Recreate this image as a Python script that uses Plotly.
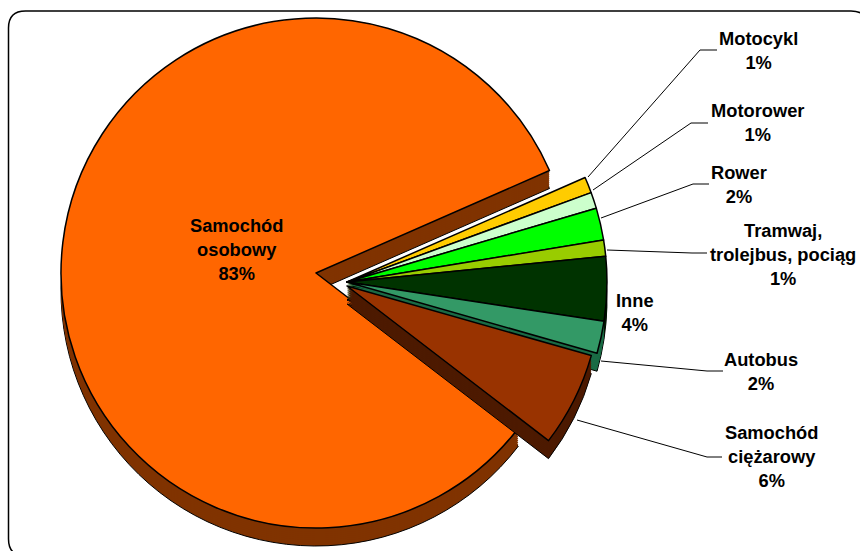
import plotly.graph_objects as go

# Visible window size, and a taller canvas so the lowest rim discs keep a valid domain
W, H = 860, 551
CANVAS_H = 640

# Share of road traffic by vehicle type (percent)
categories = ["Samochód osobowy", "Motocykl", "Motorower", "Rower",
              "Tramwaj, trolejbus, pociąg", "Inne", "Autobus", "Samochód ciężarowy"]
shares = [83, 1, 1, 2, 1, 4, 2, 6]
label_lines = ["Samochód<br>osobowy", "Motocykl", "Motorower", "Rower",
               "Tramwaj,<br>trolejbus, pociąg", "Inne", "Autobus", "Samochód<br>ciężarowy"]

face_colors = ["#FF6600", "#FFCC00", "#CCFFCC", "#00FF00", "#99CC00", "#003300", "#339966", "#993300"]
side_colors = ["#803300", "#806600", "#668066", "#008000", "#4D6600", "#001A00", "#1A6B45", "#4D1A00"]

HIDDEN = "rgba(0,0,0,0)"
DEPTH = 18
START_ANGLE = 127.5

# Exploded groups of slices: indices, apex position in pixels, disc radius
slice_groups = [
    ([0], 316, 273, 255),
    ([1, 2, 3, 4, 5, 6], 347, 282, 260),
    ([7], 347, 286, 254),
]


def pie_layer(members, cx, cy, radius, colors, line_width):
    """One disc of the pie; slices outside `members` stay invisible."""
    return go.Pie(
        labels=categories,
        values=shares,
        sort=False,
        direction="clockwise",
        rotation=START_ANGLE,
        textinfo="none",
        hoverinfo="label+percent",
        showlegend=False,
        marker=dict(
            colors=[colors[i] if i in members else HIDDEN for i in range(len(shares))],
            line=dict(
                color=["#000000" if i in members else HIDDEN for i in range(len(shares))],
                width=[line_width if i in members else 0 for i in range(len(shares))],
            ),
        ),
        domain=dict(
            x=[(cx - radius) / W, (cx + radius) / W],
            y=[1 - (cy + radius) / CANVAS_H, 1 - (cy - radius) / CANVAS_H],
        ),
    )


fig = go.Figure()

# Extruded rim: stacked dark discs, then the coloured faces on top
for members, cx, cy, radius in slice_groups:
    for offset in range(DEPTH, 0, -2):
        width = 1 if offset == DEPTH else 0
        fig.add_trace(pie_layer(members, cx, cy + offset, radius, side_colors, width))
    fig.add_trace(pie_layer(members, cx, cy, radius, face_colors, 1.5))

# Label centres and leader-line vertices in pixels
label_centres = [(236, 249), (758, 50), (757, 123), (739, 184),
                 (783, 254), (635, 312), (761, 371), (771, 456)]
leaders = {
    1: [(588, 177), (700, 50), (717, 50)],
    2: [(593, 190), (691, 123), (708, 123)],
    3: [(601, 218), (693, 184), (709, 184)],
    4: [(607, 250), (692, 253), (707, 253)],
    6: [(601, 361), (707, 371), (723, 371)],
    7: [(577, 420), (707, 457), (722, 457)],
}


def px(x):
    return x / W


def py(y):
    return 1 - y / CANVAS_H


for i, (name, share) in enumerate(zip(label_lines, shares)):
    cx, cy = label_centres[i]
    fig.add_annotation(
        x=px(cx), y=py(cy), xref="paper", yref="paper",
        xanchor="center", yanchor="middle",
        text=f"<b>{name}<br>{share}%</b>",
        showarrow=False, align="center",
        font=dict(family="Liberation Sans", size=18.3, color="#000000"),
    )

shapes = []
for points in leaders.values():
    for (x0, y0), (x1, y1) in zip(points, points[1:]):
        shapes.append(dict(type="line", xref="paper", yref="paper",
                           x0=px(x0), y0=py(y0), x1=px(x1), y1=py(y1),
                           line=dict(color="#000000", width=1)))

# Rounded chart frame
frame_l, frame_t, frame_r, frame_b, rad = 8.5, 11, 868, 556, 17
frame_path = (
    f"M {px(frame_l + rad)} {py(frame_t)} L {px(frame_r - rad)} {py(frame_t)} "
    f"Q {px(frame_r)} {py(frame_t)} {px(frame_r)} {py(frame_t + rad)} "
    f"L {px(frame_r)} {py(frame_b - rad)} "
    f"Q {px(frame_r)} {py(frame_b)} {px(frame_r - rad)} {py(frame_b)} "
    f"L {px(frame_l + rad)} {py(frame_b)} "
    f"Q {px(frame_l)} {py(frame_b)} {px(frame_l)} {py(frame_b - rad)} "
    f"L {px(frame_l)} {py(frame_t + rad)} "
    f"Q {px(frame_l)} {py(frame_t)} {px(frame_l + rad)} {py(frame_t)} Z"
)
shapes.append(dict(type="path", xref="paper", yref="paper", path=frame_path,
                   line=dict(color="#000000", width=1.5), layer="below"))

fig.update_layout(
    width=W, height=CANVAS_H,
    margin=dict(l=0, r=0, t=0, b=0),
    paper_bgcolor="#FFFFFF",
    plot_bgcolor="#FFFFFF",
    shapes=shapes,
)

# The canvas runs below the window; keep the page itself from scrolling
fig.write_html("out.html", post_script="document.documentElement.style.overflow='hidden';")
